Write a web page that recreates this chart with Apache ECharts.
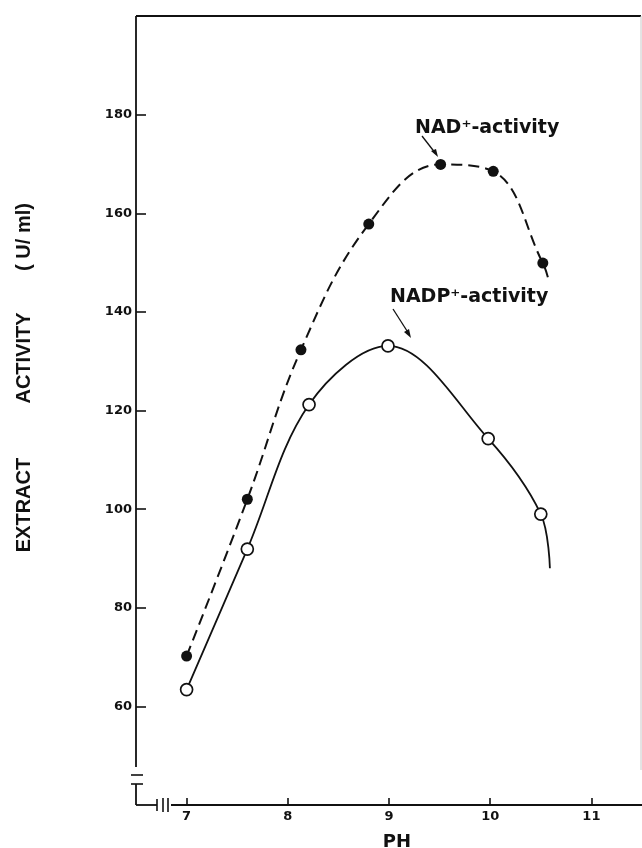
<!DOCTYPE html>
<html><head><meta charset="utf-8">
<script src="https://cdn.jsdelivr.net/npm/echarts@6/dist/echarts.min.js"></script>
<style>html,body{margin:0;padding:0;background:#fff}#c{width:642px;height:848px}</style>
</head><body><div id="c"></div>
<script>
// ---- data ----
const nadPH   = [7.0, 7.6, 8.13, 8.8, 9.51, 10.03, 10.52];
const nadAct  = [70.2, 102, 132.3, 157.8, 169.9, 168.5, 149.9];
const nadpPH  = [7.0, 7.6, 8.21, 8.99, 9.98, 10.5];
const nadpAct = [63.4, 91.9, 121.2, 133.1, 114.3, 99];
// where each drawn curve ends beyond its last measured point
const nadTailPH = 10.57, nadTailAct = 147;
const nadpTailPH = 10.59, nadpTailAct = 88;
const xTicks = [7, 8, 9, 10, 11];
const yTicks = [60, 80, 100, 120, 140, 160, 180];

const INK = '#111';
const pairs = (xs, ys) => xs.map((x, i) => [x, ys[i]]);
const nadCurve = pairs(nadPH, nadAct).concat([[nadTailPH, nadTailAct]]);
const nadpCurve = pairs(nadpPH, nadpAct).concat([[nadpTailPH, nadpTailAct]]);

const tickFont = {color: INK, fontFamily: 'DejaVu Sans', fontWeight: 'bold', fontSize: 13};

const chart = echarts.init(document.getElementById('c'), null, {renderer: 'canvas'});
const option = {
  animation: false,
  backgroundColor: '#fff',
  grid: {left: 136, right: 0, top: 16, bottom: 43},
  xAxis: {
    type: 'value', min: 6.5, max: 11.5,
    axisLine: {show: false},
    splitLine: {show: false},
    axisTick: {show: true, inside: true, length: 7, lineStyle: {color: INK, width: 1.6}, customValues: xTicks},
    axisLabel: Object.assign({margin: 5, customValues: xTicks}, tickFont)
  },
  yAxis: {
    type: 'value', min: 40, max: 200,
    axisLine: {show: false},
    splitLine: {show: false},
    axisTick: {show: true, inside: true, length: 10, lineStyle: {color: INK, width: 1.6}, customValues: yTicks},
    axisLabel: Object.assign({margin: 4, customValues: yTicks}, tickFont)
  },
  series: [
    {type: 'line', data: nadCurve, smooth: 0.4, showSymbol: false, symbol: 'none',
     lineStyle: {color: INK, width: 2, type: [11, 6]}, z: 2},
    {type: 'line', data: nadpCurve, smooth: 0.35, showSymbol: false, symbol: 'none',
     lineStyle: {color: INK, width: 1.8}, z: 2},
    {type: 'scatter', data: pairs(nadPH, nadAct), symbol: 'circle', symbolSize: 11,
     itemStyle: {color: INK, opacity: 1}, z: 3},
    {type: 'scatter', data: pairs(nadpPH, nadpAct), symbol: 'circle', symbolSize: 12,
     itemStyle: {color: '#fff', borderColor: INK, borderWidth: 1.7, opacity: 1}, z: 3}
  ]
};
chart.setOption(option);

// ---- frame, broken axes and annotations ----
const P = (x, y) => chart.convertToPixel({gridIndex: 0}, [x, y]);
const tl = P(6.5, 200), br = P(11.5, 40);
const L = tl[0], T = tl[1], R = br[0] - 1, B = br[1];
const seg = (x1, y1, x2, y2, w, c) => ({type: 'line', shape: {x1, y1, x2, y2},
  style: {stroke: c || INK, lineWidth: w || 1.6}, silent: true});
const txt = (x, y, text, font, align, rot) => ({type: 'text', x, y, rotation: rot || 0,
  style: {text, font, fill: INK, textAlign: align || 'left', textVerticalAlign: 'middle'}, silent: true});

const annFont = 'bold 19px "DejaVu Sans"';
const titleFont = 'bold 20px "Liberation Sans"';
const g = [
  seg(L, T, R, T, 1.8),
  seg(R, T, R, B - 35, 1, '#c8c8c8'),
  seg(L, T, L, B - 38, 1.8),
  seg(L - 5, B - 30, L + 7, B - 30),
  seg(L - 5, B - 21, L + 7, B - 21),
  seg(L, B - 21, L, B, 1.8),
  seg(L, B, L + 21, B, 1.8),
  seg(L + 21, B - 6, L + 21, B + 6),
  seg(L + 27, B - 7, L + 27, B + 7),
  seg(L + 32, B - 7, L + 32, B + 7),
  seg(L + 35, B, R + 1, B, 1.8),
  // labels
  txt(415, 128, 'NAD\u207A-activity', annFont),
  txt(390, 297, 'NADP\u207A-activity', annFont),
  txt(397, 842, 'PH', 'bold 18px "DejaVu Sans"', 'center'),
  txt(24, 505, 'EXTRACT', titleFont, 'center', Math.PI / 2),
  txt(24, 358, 'ACTIVITY', titleFont, 'center', Math.PI / 2),
  txt(24, 237, '( U/ ml)', titleFont, 'center', Math.PI / 2),
  // arrows
  seg(422, 136, 436, 154, 1.3),
  {type: 'polygon', shape: {points: [[438, 157], [431, 151], [436, 149]]}, style: {fill: INK}, silent: true},
  seg(393, 309, 409, 334, 1.3),
  {type: 'polygon', shape: {points: [[411, 338], [404, 332], [409, 329]]}, style: {fill: INK}, silent: true}
];
chart.setOption({graphic: {elements: g}});
</script></body></html>
